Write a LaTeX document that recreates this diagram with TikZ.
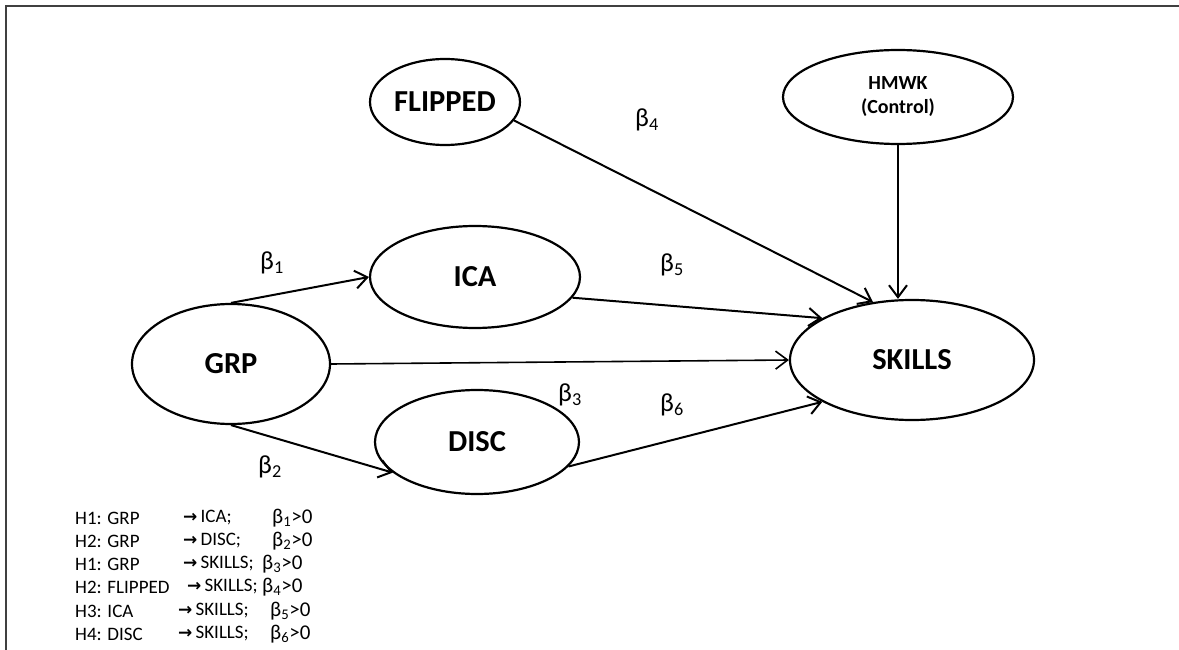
\documentclass[tikz,border=0pt]{standalone}
\usepackage{fontspec}
\setmainfont{Carlito}
\newfontfamily\arrowfont{DejaVu Sans}
\usetikzlibrary{arrows.meta,shapes.geometric}

\begin{document}
\begin{tikzpicture}
            [x=1pt,y=-1pt,
             var/.style={ellipse,draw,line width=2.2pt,inner sep=0pt,font=\bfseries\fontsize{30.5}{33}\selectfont},
             link/.style={-{Straight Barb[length=12pt,width=18pt]},line width=2pt},
             coef/.style={font=\fontsize{26}{28}\selectfont},
             hyp/.style={anchor=west,inner sep=0pt,font=\fontsize{19}{21}\selectfont}]
            \useasboundingbox (0,0) rectangle (1179,650);
            \draw[line width=2.5pt,black!75] (6,650) -- (6,6) -- (1179,6);

            \node[var,minimum width=150pt,minimum height=86pt] (flipped) at (445,102) {FLIPPED};
            \node[var,minimum width=230pt,minimum height=94pt,
                  font=\bfseries\fontsize{20}{24}\selectfont,align=center] (hmwk) at (898,97) {HMWK\\(Control)};
            \node[var,minimum width=210pt,minimum height=102pt] (ica) at (475,277) {ICA};
            \node[var,minimum width=198pt,minimum height=120pt] (grp) at (231,364) {GRP};
            \node[var,minimum width=204pt,minimum height=104pt] (disc) at (477,442) {DISC};
            \node[var,minimum width=244pt,minimum height=120pt] (skills) at (912,360) {SKILLS};

            \draw[link] (grp.north) -- (ica.west);
            \draw[link] (grp.south) -- (disc.200);
            \draw[link,line width=1.6pt] (grp.east) -- (skills.west);
            \draw[link] (flipped.-15) -- (skills.124);
            \draw[link] (hmwk.south) -- (hmwk.south |- skills.north);
            \draw[link] (ica.-12) -- (skills.155);
            \draw[link] (disc.-15) -- (skills.205);

            \node[coef] (b1) at (272,263) {β\textsubscript{1}};
            \node[coef] (b2) at (270,467) {β\textsubscript{2}};
            \node[coef] (b3) at (570,395) {β\textsubscript{3}};
            \node[coef] (b4) at (647,120) {β\textsubscript{4}};
            \node[coef] (b5) at (672,265) {β\textsubscript{5}};
            \node[coef] (b6) at (672,405) {β\textsubscript{6}};

            % hypotheses
            \foreach \h/\from/\to/\xa/\xb/\y [count=\i] in
                {H1/GRP/ICA/183/272/518, H2/GRP/DISC/183/272/541, H1/GRP/SKILLS/183/262/564,
                 H2/FLIPPED/SKILLS/187/262/587, H3/ICA/SKILLS/178/270/611, H4/DISC/SKILLS/178/270/634}
            {
              \node[hyp] (h\i) at (75,\y) {\h: \from};
              \node[hyp] (t\i) at (\xa,\y) {{\arrowfont\bfseries\fontsize{17}{19}\selectfont →}\,\to;};
              \node[hyp,font=\fontsize{21}{21}\selectfont] (c\i) at (\xb,\y) {β\textsubscript{\i}>0};
            }
          \end{tikzpicture}
\end{document}
